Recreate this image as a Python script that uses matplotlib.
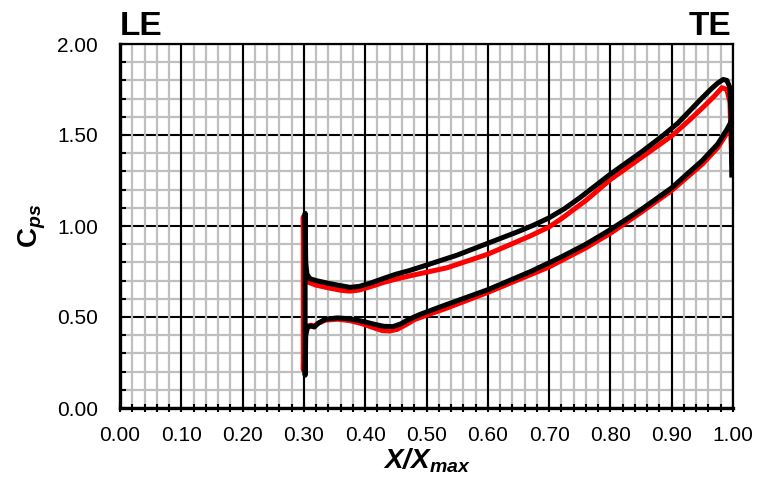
import matplotlib
matplotlib.use("Agg")
import matplotlib.pyplot as plt
import numpy as np

plt.rcParams['font.family'] = ['Liberation Sans', 'DejaVu Sans']
plt.rcParams['mathtext.fontset'] = 'custom'
plt.rcParams['mathtext.rm'] = 'Liberation Sans:italic:bold'
plt.rcParams['mathtext.bf'] = 'Liberation Sans:bold'
plt.rcParams['mathtext.it'] = 'Liberation Sans:italic:bold'

# black run: upper branch (LE -> TE) and lower branch (LE -> TE)
blk_up_x = [0.302, 0.303, 0.305, 0.310, 0.320, 0.340, 0.360, 0.375, 0.390, 0.410, 0.430,
            0.450, 0.470, 0.500, 0.550, 0.600, 0.650, 0.675, 0.700, 0.725, 0.750, 0.800,
            0.850, 0.885, 0.910, 0.930, 0.950, 0.965, 0.975, 0.984, 0.990, 0.995, 0.997,
            0.998]
blk_up_y = [1.07, 0.80, 0.735, 0.71, 0.70, 0.685, 0.672, 0.663, 0.668, 0.688, 0.712,
            0.735, 0.753, 0.785, 0.84, 0.905, 0.97, 1.005, 1.045, 1.095, 1.155, 1.285,
            1.405, 1.495, 1.565, 1.635, 1.705, 1.755, 1.785, 1.805, 1.80, 1.76, 1.60,
            1.28]
blk_lo_x = [0.302, 0.303, 0.306, 0.312, 0.317, 0.323, 0.335, 0.355, 0.375, 0.395, 0.415,
            0.430, 0.445, 0.458, 0.470, 0.490, 0.530, 0.600, 0.670, 0.720, 0.760, 0.800,
            0.850, 0.900, 0.950, 0.975, 0.990, 0.998]
blk_lo_y = [0.18, 0.40, 0.445, 0.45, 0.445, 0.465, 0.488, 0.495, 0.49, 0.477, 0.46,
            0.449, 0.447, 0.462, 0.485, 0.515, 0.565, 0.65, 0.75, 0.83, 0.90, 0.98,
            1.09, 1.21, 1.36, 1.45, 1.53, 1.58]

# red run
red_up_x = [0.299, 0.300, 0.302, 0.308, 0.320, 0.340, 0.360, 0.375, 0.390, 0.410, 0.430,
            0.450, 0.478, 0.533, 0.600, 0.669, 0.700, 0.720, 0.760, 0.800, 0.850, 0.900,
            0.930, 0.955, 0.970, 0.982, 0.990, 0.995, 0.998]
red_up_y = [1.05, 0.78, 0.715, 0.69, 0.675, 0.66, 0.647, 0.642, 0.648, 0.668, 0.69,
            0.708, 0.73, 0.77, 0.845, 0.945, 0.995, 1.04, 1.14, 1.255, 1.375, 1.495,
            1.585, 1.665, 1.715, 1.76, 1.75, 1.68, 1.35]
red_lo_x = [0.299, 0.300, 0.304, 0.312, 0.317, 0.323, 0.335, 0.355, 0.375, 0.395, 0.412,
            0.428, 0.440, 0.452, 0.465, 0.480, 0.500, 0.530, 0.600, 0.700, 0.760, 0.800,
            0.850, 0.900, 0.950, 0.975, 0.990, 0.998]
red_lo_y = [0.21, 0.40, 0.45, 0.455, 0.45, 0.465, 0.483, 0.488, 0.48, 0.463, 0.443,
            0.425, 0.423, 0.432, 0.455, 0.485, 0.51, 0.545, 0.635, 0.775, 0.88, 0.96,
            1.075, 1.195, 1.34, 1.43, 1.51, 1.55]

x_major = np.arange(0, 1.0001, 0.1)
x_minor = np.arange(0, 1.0001, 0.02)
y_major = np.arange(0, 2.0001, 0.5)
y_minor = np.arange(0, 2.0001, 0.1)

fig = plt.figure(figsize=(7.57, 4.88), dpi=100)
ax = fig.add_axes([120/757, 80/488, 613/757, 364/488])

# grid: black horizontals under grey, black verticals on top
for v in y_major:
    ax.axhline(v, color='black', lw=1.5, zorder=0.8)
for v in x_minor:
    ax.axvline(v, color='#bfbfbf', lw=1.6, zorder=1)
for v in y_minor:
    if not np.isclose(v % 0.5, 0) and not np.isclose(v % 0.5, 0.5):
        ax.axhline(v, color='#bfbfbf', lw=1.6, zorder=1)
for v in x_major:
    ax.axvline(v, color='black', lw=1.5, zorder=1.2)

def path(ux, uy, lx, ly):
    return list(ux[::-1]) + list(lx), list(uy[::-1]) + list(ly)

rx, ry = path(red_up_x, red_up_y, red_lo_x, red_lo_y)
bx, by = path(blk_up_x, blk_up_y, blk_lo_x, blk_lo_y)
ax.plot(rx, ry, color='#ff0000', lw=3.6, zorder=3, solid_joinstyle='round')
ax.plot(bx, by, color='black', lw=3.6, zorder=4, solid_joinstyle='round')

ax.set_xlim(0, 1)
ax.set_ylim(0, 2)
ax.set_xticks(x_major)
ax.set_xticks(x_minor, minor=True)
ax.set_yticks(y_major)
ax.set_yticks(y_minor, minor=True)
ax.set_xticklabels(['%.2f' % v for v in x_major])
ax.set_yticklabels(['%.2f' % v for v in y_major])
ax.tick_params(axis='x', which='both', direction='inout', length=6, width=1.5,
               labelsize=15, pad=10)
ax.tick_params(axis='y', which='both', direction='in', length=4, width=1.5,
               labelsize=15, pad=16)

for s in ['left', 'bottom']:
    ax.spines[s].set_linewidth(2.4)
for s in ['top', 'right']:
    ax.spines[s].set_linewidth(1.6)
for s in ax.spines.values():
    s.set_zorder(5)

ax.set_xlabel(r'$X/X_{max}$', fontsize=20, labelpad=1)
ax.set_ylabel(r'$\mathbf{C}_{ps}$', fontsize=20, labelpad=6)

ax.text(0.0, 1.025, 'LE', transform=ax.transAxes, fontsize=24, fontweight='bold',
        ha='left', va='baseline')
ax.text(0.997, 1.025, 'TE', transform=ax.transAxes, fontsize=24, fontweight='bold',
        ha='right', va='baseline')

fig.savefig('out.png', dpi=100)
